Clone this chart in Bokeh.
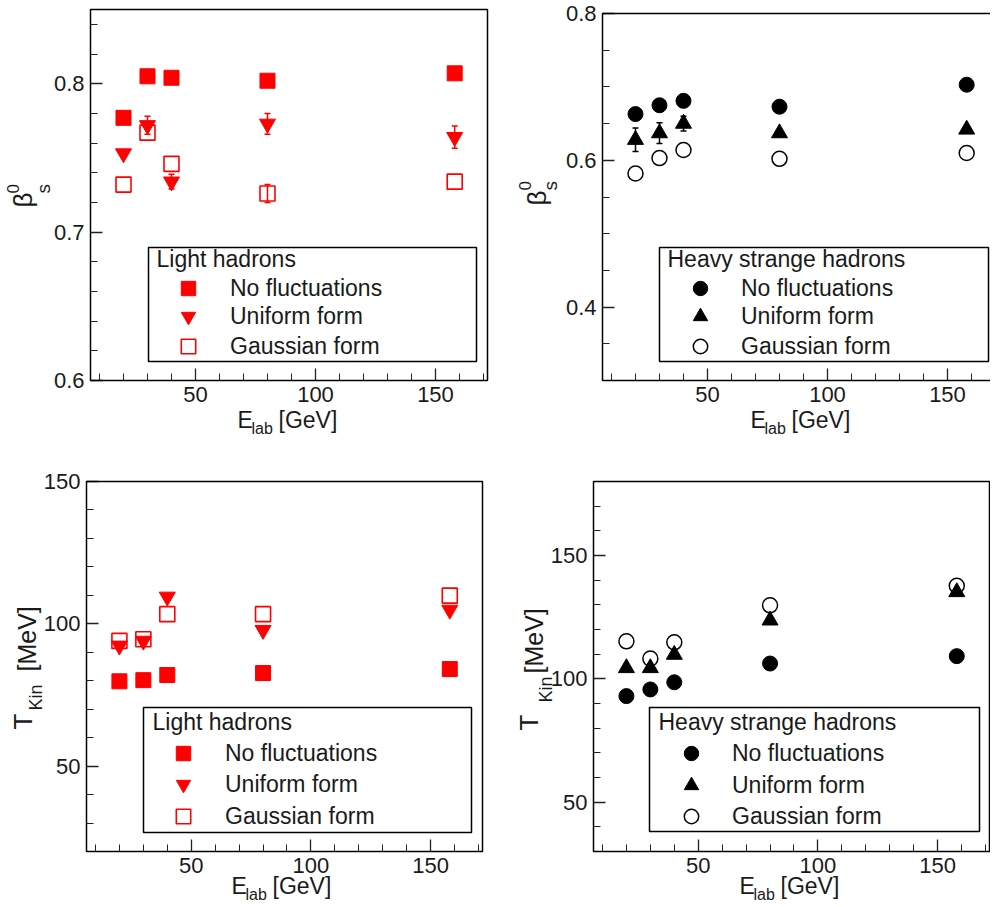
import math
from bokeh.plotting import figure
from bokeh.models import (Range1d, FixedTicker, Label, Legend, LegendItem,
                          BoxAnnotation, Whisker, TeeHead, ColumnDataSource)
from bokeh.layouts import column, row
from bokeh.embed import file_html
from bokeh.resources import INLINE

# ---------------- data ----------------
energies = [20, 30, 40, 80, 158]

beta_light_nofluct = [0.777, 0.805, 0.804, 0.802, 0.807]
beta_light_uniform = [0.753, 0.772, 0.734, 0.773, 0.764]
beta_light_uniform_err = [0.0, 0.006, 0.005, 0.007, 0.0075]
beta_light_gauss = [0.732, 0.767, 0.746, 0.726, 0.734]
beta_light_gauss_err = [0.0, 0.0, 0.0, 0.006, 0.0]

beta_heavy_nofluct = [0.663, 0.675, 0.681, 0.673, 0.703]
beta_heavy_uniform = [0.628, 0.637, 0.650, 0.637, 0.642]
beta_heavy_uniform_err = [0.016, 0.014, 0.010, 0.0, 0.0]
beta_heavy_gauss = [0.582, 0.603, 0.614, 0.602, 0.610]

t_light_nofluct = [79.8, 80.2, 82.0, 82.7, 84.1]
t_light_uniform = [92.3, 94.0, 109.5, 97.8, 104.9]
t_light_gauss = [94.0, 94.6, 103.4, 103.4, 109.9]

t_heavy_nofluct = [93.0, 95.7, 98.6, 106.2, 109.2]
t_heavy_uniform = [104.4, 104.4, 109.8, 123.7, 135.2]
t_heavy_gauss = [115.2, 108.2, 114.8, 129.8, 137.7]

series_labels = ["No fluctuations", "Uniform form", "Gaussian form"]
legend_titles = ["Light hadrons", "Heavy strange hadrons"]

x_limits = (6.25, 171.67)
x_major = [50, 100, 150]
x_minor = [10, 20, 30, 40, 60, 70, 80, 90, 110, 120, 130, 140, 160, 170]
y1_limits = (0.6, 0.85)
y1_major = [0.6, 0.7, 0.8]
y1_minor = [0.62, 0.64, 0.66, 0.68, 0.72, 0.74, 0.76, 0.78, 0.82, 0.84]
y2_limits = (0.3, 0.8)
y2_major = [0.4, 0.6, 0.8]
y2_minor = [0.35, 0.45, 0.5, 0.55, 0.65, 0.7, 0.75]
y3_limits = (20, 150)
y3_major = [50, 100, 150]
y3_minor = [30, 40, 60, 70, 80, 90, 110, 120, 130, 140]
y4_limits = (30, 180)
y4_major = [50, 100, 150]
y4_minor = [40, 60, 70, 80, 90, 110, 120, 130, 140, 160, 170]

FONT = "Liberation Sans"
TXT = "#1a1a1a"
RED = "#ff0000"
BLK = "#000000"
A = math.pi / 2
BASE_FIX = 0.38   # bokeh places 'alphabetic' text about this many em lower


class Panel:
    """A figure whose frame is its whole canvas; the visible plot box is
    placed at page pixel box (l, r, t, b) and the axes sit on its edges."""

    def __init__(self, ox, oy, W, H, box, xlim, ylim, ymaj, ymin):
        self.ox, self.oy, self.W, self.H = ox, oy, W, H
        l, r, t, b = box
        kx = (xlim[1] - xlim[0]) / (r - l)
        xr = (xlim[0] - (l - ox) * kx, xlim[0] + (ox + W - l) * kx)
        ky = (ylim[1] - ylim[0]) / (b - t)
        yr = (ylim[0] - (oy + H - b) * ky, ylim[1] + (t - oy) * ky)
        p = figure(width=W, height=H, x_range=Range1d(*xr), y_range=Range1d(*yr),
                   min_border=0, min_border_left=0, min_border_right=0,
                   min_border_top=0, min_border_bottom=0,
                   output_backend="svg", toolbar_location=None, tools="")
        p.xgrid.visible = False
        p.ygrid.visible = False
        p.outline_line_color = None
        p.background_fill_color = "white"
        p.border_fill_color = "white"
        p.xaxis[0].fixed_location = ylim[0]
        p.yaxis[0].fixed_location = xlim[0]
        for ax in (p.xaxis[0], p.yaxis[0]):
            ax.axis_line_color = None
            ax.major_tick_in = 12
            ax.major_tick_out = 0
            ax.minor_tick_in = 7
            ax.minor_tick_out = 0
            ax.major_tick_line_width = 1.3
            ax.minor_tick_line_width = 1
            ax.major_tick_line_color = "#222222"
            ax.minor_tick_line_color = "#222222"
            ax.major_label_text_font = FONT
            ax.major_label_text_font_size = "22px"
            ax.major_label_text_color = TXT
            ax.major_label_standoff = 6
        p.xaxis[0].ticker = FixedTicker(ticks=x_major, minor_ticks=x_minor)
        p.yaxis[0].ticker = FixedTicker(ticks=ymaj, minor_ticks=ymin)
        p.add_layout(BoxAnnotation(left=xlim[0], right=xlim[1],
                                   bottom=ylim[0], top=ylim[1],
                                   fill_alpha=0, line_color="black",
                                   line_width=1.5, line_alpha=1))
        self.p = p

    def sx(self, px):
        return px - self.ox

    def sy(self, py):
        return self.oy + self.H - py

    def text(self, s, px, py, size, angle=0.0):
        d = BASE_FIX * size
        if angle == 0.0:
            py -= d
        else:
            px -= d
        self.p.add_layout(Label(x=self.sx(px), y=self.sy(py),
                                x_units="screen", y_units="screen", text=s,
                                text_font=FONT, text_font_size="%dpx" % size,
                                text_color=TXT, text_baseline="alphabetic",
                                text_align="left", angle=angle))

    def whiskers(self, xs, ys, errs, color):
        sel = [i for i, e in enumerate(errs) if e > 0]
        if not sel:
            return
        src = ColumnDataSource(dict(
            x=[xs[i] for i in sel],
            lo=[ys[i] - errs[i] for i in sel],
            hi=[ys[i] + errs[i] for i in sel]))
        self.p.add_layout(Whisker(
            base="x", lower="lo", upper="hi", source=src,
            line_color=color, line_width=1.5,
            upper_head=TeeHead(size=6, line_color=color, line_width=1.5),
            lower_head=TeeHead(size=6, line_color=color, line_width=1.5)))

    def legend(self, title, renderers, box, title_xy, glyph_x, text_x, rows_y):
        l, r, t, b = box
        self.p.add_layout(BoxAnnotation(
            left=self.sx(l), right=self.sx(r), top=self.sy(t), bottom=self.sy(b),
            left_units="screen", right_units="screen",
            top_units="screen", bottom_units="screen",
            fill_color="white", fill_alpha=1,
            line_color="black", line_width=1.5, line_alpha=1))
        g = 36
        for lab, rend, cy in zip(series_labels, renderers, rows_y):
            leg = Legend(items=[LegendItem(label=lab, renderers=[rend])],
                         location=(int(round(self.sx(glyph_x - g / 2))),
                                   int(round(self.sy(cy + g / 2)))),
                         glyph_width=g, glyph_height=g, label_height=g,
                         label_standoff=int(round(text_x - (glyph_x + g / 2))),
                         padding=0, margin=0, spacing=0,
                         background_fill_alpha=0, border_line_color=None,
                         label_text_font=FONT, label_text_font_size="23px",
                         label_text_color=TXT)
            self.p.add_layout(leg)
        self.text(title, title_xy[0], title_xy[1], 23)

    def xlabel(self, ex, base):
        self.text("E", ex, base, 23)
        self.text("lab", ex + 14, base + 6, 16)
        self.text("[GeV]", ex + 41, base, 23)


# ---------------- panel 1 : beta, light ----------------
P1 = Panel(0, 0, 496, 462, (90, 487, 9, 380), x_limits, y1_limits, y1_major, y1_minor)
p = P1.p
r1 = p.scatter(energies, beta_light_nofluct, marker="square", size=15,
               fill_color=RED, line_color=RED)
P1.whiskers(energies, beta_light_uniform, beta_light_uniform_err, RED)
r2 = p.scatter(energies, beta_light_uniform, marker="inverted_triangle", size=16,
               fill_color=RED, line_color=RED)
P1.whiskers(energies, beta_light_gauss, beta_light_gauss_err, RED)
r3 = p.scatter(energies, beta_light_gauss, marker="square", size=15,
               fill_color=None, line_color=RED, line_width=1.6)
P1.legend(legend_titles[0], [r1, r2, r3], (148, 476, 247, 361), (156, 267),
          188, 230, (288, 316.5, 346))
P1.xlabel(237, 428)
P1.text("\u03b2", 32, 207, 26, A)
P1.text("0", 19, 193, 17, A)
P1.text("s", 50, 193, 19, A)

# ---------------- panel 2 : beta, heavy strange ----------------
P2 = Panel(496, 0, 494, 462, (602, 999, 13, 380), x_limits, y2_limits, y2_major, y2_minor)
p = P2.p
q1 = p.scatter(energies, beta_heavy_nofluct, marker="circle", size=15,
               fill_color=BLK, line_color=BLK)
P2.whiskers(energies, beta_heavy_uniform, beta_heavy_uniform_err, BLK)
q2 = p.scatter(energies, beta_heavy_uniform, marker="triangle", size=16,
               fill_color=BLK, line_color=BLK)
q3 = p.scatter(energies, beta_heavy_gauss, marker="circle", size=15,
               fill_color=None, line_color=BLK, line_width=1.5)
P2.legend(legend_titles[1], [q1, q2, q3], (659, 988, 247, 361), (667, 267),
          700, 741, (288, 316.5, 345.5))
P2.xlabel(750, 428)
P2.text("\u03b2", 546, 205, 26, A)
P2.text("0", 531, 190, 17, A)
P2.text("s", 557, 190, 19, A)

# ---------------- panel 3 : T, light ----------------
P3 = Panel(0, 462, 496, 444, (86, 482, 481, 851), x_limits, y3_limits, y3_major, y3_minor)
p = P3.p
s1 = p.scatter(energies, t_light_nofluct, marker="square", size=15,
               fill_color=RED, line_color=RED)
s2 = p.scatter(energies, t_light_uniform, marker="inverted_triangle", size=16,
               fill_color=RED, line_color=RED)
s3 = p.scatter(energies, t_light_gauss, marker="square", size=15,
               fill_color=None, line_color=RED, line_width=1.6)
P3.legend(legend_titles[0], [s1, s2, s3], (143, 471, 707, 832), (152, 730),
          183, 225, (753, 784, 816))
P3.xlabel(231, 894)
P3.text("T", 32, 729, 26, A)
P3.text("Kin", 42, 710, 18, A)
P3.text("[MeV]", 36, 671, 25, A)

# ---------------- panel 4 : T, heavy strange ----------------
P4 = Panel(496, 462, 494, 444, (593, 989, 481, 851), x_limits, y4_limits, y4_major, y4_minor)
p = P4.p
u1 = p.scatter(energies, t_heavy_nofluct, marker="circle", size=15,
               fill_color=BLK, line_color=BLK)
u2 = p.scatter(energies, t_heavy_uniform, marker="triangle", size=16,
               fill_color=BLK, line_color=BLK)
u3 = p.scatter(energies, t_heavy_gauss, marker="circle", size=15,
               fill_color=None, line_color=BLK, line_width=1.5)
P4.legend(legend_titles[1], [u1, u2, u3], (649, 979, 707, 831), (658, 730),
          691, 732, (753, 785, 816))
P4.xlabel(739, 894)
P4.text("T", 538, 730, 26, A)
P4.text("Kin", 552, 702, 18, A)
P4.text("[MeV]", 543, 673, 25, A)

layout = column(row(P1.p, P2.p), row(P3.p, P4.p))
open("out.html", "w").write(file_html(layout, INLINE))
